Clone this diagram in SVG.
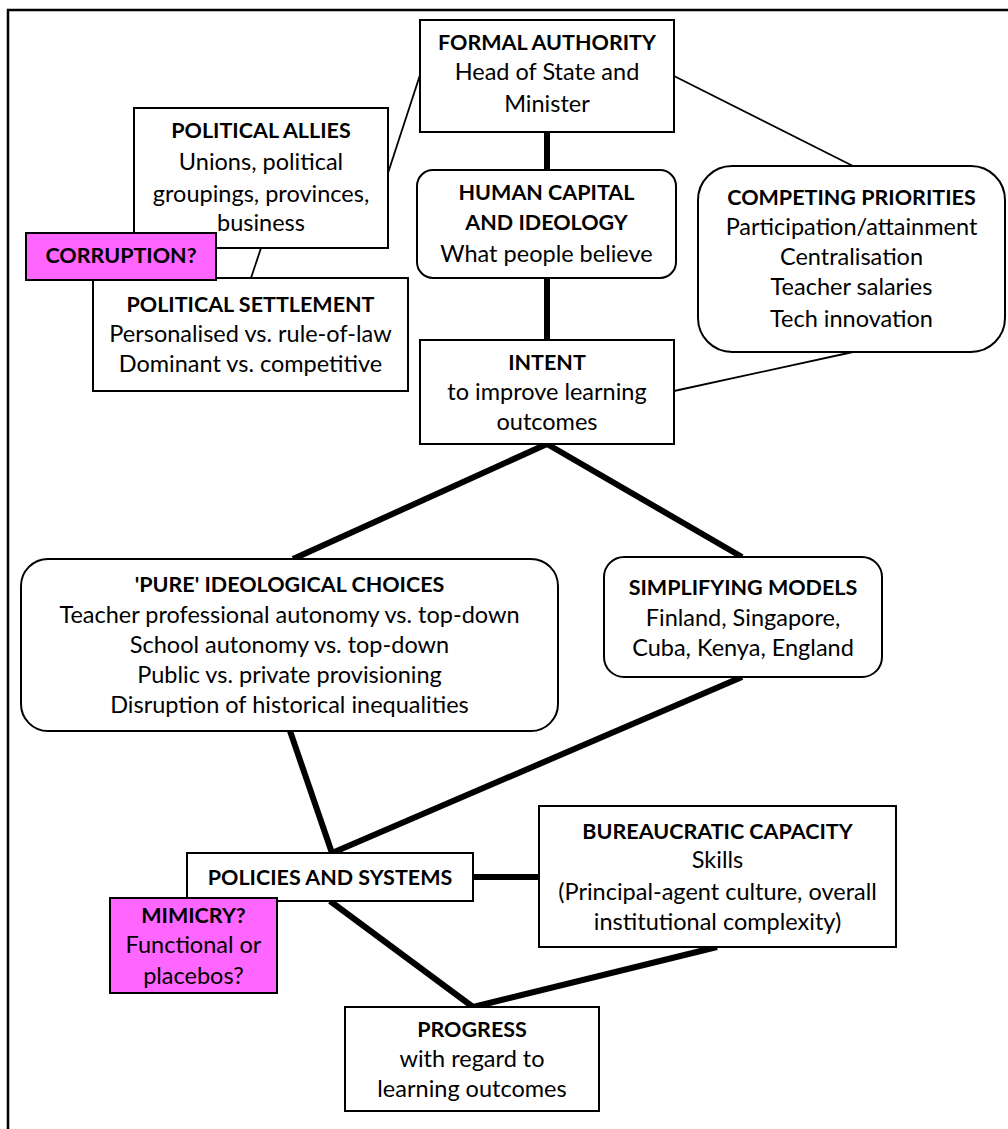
<svg xmlns="http://www.w3.org/2000/svg" width="1008" height="1129" viewBox="0 0 1008 1129">
<style>
.box{fill:#fff;stroke:#000;stroke-width:2}
.mag{fill:#ff66ff;stroke:#000;stroke-width:2}
.thin{stroke:#000;stroke-width:1.8;fill:none}
.thick{stroke:#000;stroke-width:6;fill:none}
text{font-family:Lato,"Open Sans",sans-serif;font-size:23.5px;fill:#000;text-anchor:middle}
.b{font-weight:bold;font-size:21.5px}
</style>
<rect x="8" y="10" width="1010" height="1130" fill="#fff" stroke="#000" stroke-width="2.5"/>
<g id="connectors">
<line class="thin" x1="388" y1="173" x2="420" y2="75"/>
<line class="thin" x1="261" y1="248" x2="251" y2="278"/>
<line class="thin" x1="674" y1="76" x2="853" y2="166"/>
<line class="thin" x1="674" y1="391" x2="853" y2="352"/>
<line class="thick" x1="547" y1="132" x2="547" y2="170"/>
<line class="thick" x1="547" y1="278" x2="547" y2="340"/>
<line class="thick" x1="547" y1="444" x2="293" y2="559"/>
<line class="thick" x1="547" y1="444" x2="742" y2="557"/>
<line class="thick" x1="290" y1="731" x2="332" y2="853"/>
<line class="thick" x1="742" y1="677" x2="332" y2="853"/>
<line class="thick" x1="473" y1="877" x2="539" y2="877"/>
<line class="thick" x1="330" y1="901" x2="473" y2="1007"/>
<line class="thick" x1="717" y1="947" x2="473" y2="1007"/>
</g>
<g id="formal-authority">
<rect class="box" x="420" y="20" width="254" height="112"/>
<text class="b" x="547" y="50">FORMAL AUTHORITY</text>
<text x="547" y="80">Head of State and</text>
<text x="547" y="112">Minister</text>
</g>
<g id="political-allies">
<rect class="box" x="134" y="108" width="254" height="140"/>
<text class="b" x="261" y="138">POLITICAL ALLIES</text>
<text x="261" y="170">Unions, political</text>
<text x="261" y="202">groupings, provinces,</text>
<text x="261" y="231">business</text>
</g>
<g id="political-settlement">
<rect class="box" x="93" y="278" width="315" height="113"/>
<text class="b" x="250.5" y="312">POLITICAL SETTLEMENT</text>
<text x="250.5" y="342">Personalised vs. rule-of-law</text>
<text x="250.5" y="372">Dominant vs. competitive</text>
</g>
<g id="corruption">
<rect class="mag" x="26" y="233" width="190" height="47"/>
<text class="b" x="121" y="263">CORRUPTION?</text>
</g>
<g id="human-capital">
<rect class="box" x="417" y="170" width="259" height="108" rx="16"/>
<text class="b" x="546.5" y="200">HUMAN CAPITAL</text>
<text class="b" x="546.5" y="230">AND IDEOLOGY</text>
<text x="546.5" y="262">What people believe</text>
</g>
<g id="competing-priorities">
<rect class="box" x="698" y="166" width="307" height="186" rx="34"/>
<text class="b" x="851.5" y="205">COMPETING PRIORITIES</text>
<text x="851.5" y="235">Participation/attainment</text>
<text x="851.5" y="265">Centralisation</text>
<text x="851.5" y="295">Teacher salaries</text>
<text x="851.5" y="327">Tech innovation</text>
</g>
<g id="intent">
<rect class="box" x="420" y="340" width="254" height="104"/>
<text class="b" x="547" y="370">INTENT</text>
<text x="547" y="400">to improve learning</text>
<text x="547" y="430">outcomes</text>
</g>
<g id="pure-ideological-choices">
<rect class="box" x="21" y="559" width="537" height="172" rx="27"/>
<text class="b" x="289.5" y="592">'PURE' IDEOLOGICAL CHOICES</text>
<text x="289.5" y="623">Teacher professional autonomy vs. top-down</text>
<text x="289.5" y="653">School autonomy vs. top-down</text>
<text x="289.5" y="683">Public vs. private provisioning</text>
<text x="289.5" y="713">Disruption of historical inequalities</text>
</g>
<g id="simplifying-models">
<rect class="box" x="604" y="557" width="278" height="120" rx="20"/>
<text class="b" x="743" y="595">SIMPLIFYING MODELS</text>
<text x="743" y="626">Finland, Singapore,</text>
<text x="743" y="656">Cuba, Kenya, England</text>
</g>
<g id="policies-and-systems">
<rect class="box" x="187" y="853" width="286" height="48"/>
<text class="b" x="330" y="885">POLICIES AND SYSTEMS</text>
</g>
<g id="mimicry">
<rect class="mag" x="110" y="898" width="167" height="95"/>
<text class="b" x="193.5" y="923">MIMICRY?</text>
<text x="193.5" y="953">Functional or</text>
<text x="193.5" y="984">placebos?</text>
</g>
<g id="bureaucratic-capacity">
<rect class="box" x="539" y="806" width="357" height="141"/>
<text class="b" x="717.5" y="839">BUREAUCRATIC CAPACITY</text>
<text x="717.5" y="868">Skills</text>
<text x="717.5" y="900">(Principal-agent culture, overall</text>
<text x="717.5" y="930">institutional complexity)</text>
</g>
<g id="progress">
<rect class="box" x="345" y="1007" width="254" height="104"/>
<text class="b" x="472" y="1037">PROGRESS</text>
<text x="472" y="1067">with regard to</text>
<text x="472" y="1097">learning outcomes</text>
</g>
</svg>
